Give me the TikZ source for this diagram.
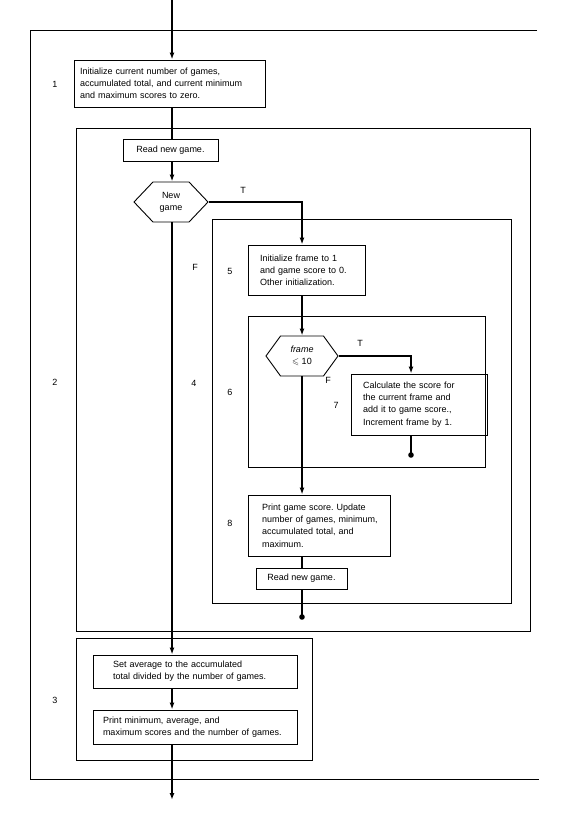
\documentclass[tikz,border=0pt]{standalone}
\usepackage{fontspec}
\setmainfont{Liberation Sans}
\usepackage{amssymb}
\usetikzlibrary{shapes.symbols,arrows.meta,calc}
\begin{document}
\frenchspacing
\begin{tikzpicture}[x=1pt,y=-1pt,
  txt/.style={font=\fontsize{9}{12.2}\selectfont},
  box/.style={txt,draw,line width=0.9pt,align=left,inner ysep=2pt},
  rbox/.style={txt,draw,line width=0.9pt,align=center,inner sep=2pt},
  hexa/.style={txt,draw,line width=0.9pt,signal,signal to=east and west,align=center,inner sep=1pt},
  frm/.style={line width=0.9pt},
  lab/.style={txt,inner sep=0pt},
  conn/.style={line width=1.6pt},
  arr/.style={conn,-{Latex[length=7pt,width=5pt]}},
  blob/.style={fill=black}
]
\useasboundingbox (0,0) rectangle (568,822);
% frames
\draw[frm] (537,30) -- (30,30) -- (30,779) -- (539,779);
\draw[frm] (76,128) rectangle (530,631);
\draw[frm] (212,219) rectangle (511,603);
\draw[frm] (248,316) rectangle (485,467);
\draw[frm] (76,638) rectangle (312,760);
% boxes
\node[box,text width=179pt,inner xsep=6pt,minimum height=47pt] (b1) at (169.5,83.5)
  {Initialize current number of games,\\\mbox{accumulated total, and current minimum}\\and maximum scores to zero.};
\node[rbox,minimum width=95pt,minimum height=22pt] (rd1) at (170.5,150) {Read new game.};
\node[hexa,minimum width=74pt,minimum height=40pt,signal pointer angle=93] (ng) at (171,202) {New\\game};
\node[box,text width=93pt,inner xsep=12pt,minimum height=50pt] (b5) at (306.5,270)
  {Initialize frame to 1\\and game score to 0.\\Other initialization.};
\node[hexa,minimum width=72pt,minimum height=40pt,signal pointer angle=108] (fr) at (302,356) {\textit{frame}\\$\leqslant$ 10};
\node[box,text width=112pt,inner xsep=12pt,minimum height=61pt] (b7) at (419,404.5)
  {Calculate the score for\\the current frame and\\add it to game score.,\\Increment frame by 1.};
\node[box,text width=114pt,inner xsep=14pt,minimum height=61pt] (b8) at (319,525.5)
  {\mbox{Print game score. Update}\\\mbox{number of games, minimum,}\\accumulated total, and\\maximum.};
\node[rbox,minimum width=91pt,minimum height=21pt] (rd2) at (301.5,578.5) {Read new game.};
\node[box,text width=164pt,inner xsep=20pt,minimum height=33pt] (sa) at (195,671.5)
  {Set average to the accumulated\\\mbox{total divided by the number of games.}};
\node[box,text width=184pt,inner xsep=10pt,minimum height=34pt] (pm) at (195,727)
  {Print minimum, average, and\\\mbox{maximum scores and the number of games.}};
% labels
\node[lab] (l1) at (55,84) {1};
\node[lab] (l2) at (55,382) {2};
\node[lab] (l3) at (55,700) {3};
\node[lab] (l4) at (194,383) {4};
\node[lab] (l5) at (230,271) {5};
\node[lab] (l6) at (230,392) {6};
\node[lab] (l7) at (336,405) {7};
\node[lab] (l8) at (230,523) {8};
\node[lab] (t1) at (243,190) {T};
\node[lab] (f1) at (195,267) {F};
\node[lab] (t2) at (360,343) {T};
\node[lab] (f2) at (328,380) {F};
% coordinates
\coordinate (top) at (172,0);
\coordinate (bot) at (172,800);
\coordinate (d7) at (411,455);
\coordinate (d8) at (302,617);
% connectors
\draw[arr] (top) -- (b1.north -| top);
\draw[conn] (b1.south -| top) -- (rd1.north -| top);
\draw[arr] (rd1.south -| top) -- (ng.north -| top);
\draw[arr] (ng.east) -| (b5.north -| fr);
\draw[arr] (ng.south -| top) -- (sa.north -| top);
\draw[arr] (b5.south -| fr) -- (fr.north);
\draw[arr] (fr.east) -| (b7.north -| d7);
\draw[conn] (b7.south -| d7) -- (d7);
\fill[blob] (d7) circle (2.8pt);
\draw[arr] (fr.south) -- (b8.north -| fr);
\draw[conn] (b8.south -| fr) -- (rd2.north -| fr);
\draw[conn] (rd2.south -| fr) -- (d8);
\fill[blob] (d8) circle (2.8pt);
\draw[arr] (sa.south -| top) -- (pm.north -| top);
\draw[arr] (pm.south -| top) -- (bot);
\end{tikzpicture}
\end{document}
